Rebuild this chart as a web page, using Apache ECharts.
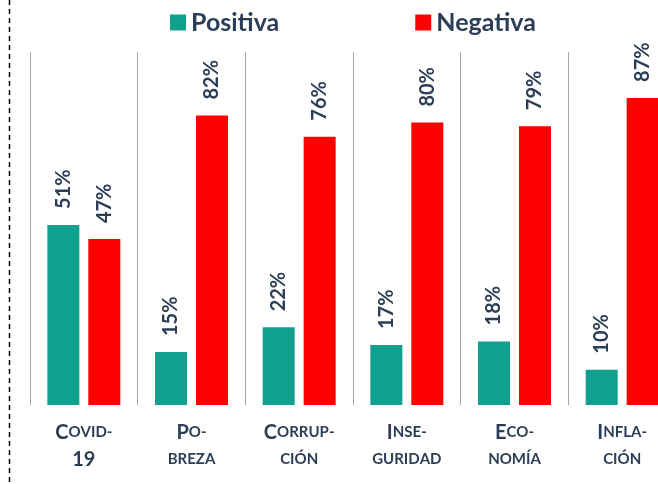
<!DOCTYPE html>
<html>
<head>
<meta charset="utf-8">
<script src="https://cdn.jsdelivr.net/npm/echarts@6/dist/echarts.min.js"></script>
<style>
  html, body { margin: 0; padding: 0; background: #fff; overflow: hidden; }
  /* la ultima columna se sale del borde derecho, como en el original */
  #chart { width: 676px; height: 484px; }
</style>
</head>
<body>
<div id="chart"></div>
<script>
// categorias (el guion marca el corte de linea)
var categories = ['Covid-\n19', 'Po-\nbreza', 'Corrup-\nción', 'Inse-\nguridad', 'Eco-\nnomía', 'Infla-\nción'];
var positiva = [51, 15, 22, 17, 18, 10];
var negativa = [47, 82, 76, 80, 79, 87];
var seriesNames = ['Positiva', 'Negativa'];

var textColor = '#2c3e56';
var font = 'Lato';

// versalitas: mayusculas y numeros grandes, minusculas pequeñas
function smallCaps(str) {
    return str.split('\n').map(function (line) {
        var out = '';
        for (var i = 0; i < line.length; i++) {
            var ch = line[i];
            if (ch !== ch.toLowerCase() || /[0-9]/.test(ch)) {
                out += '{big|' + ch + '}';
            } else {
                out += '{small|' + ch.toUpperCase() + '}';
            }
        }
        return out;
    }).join('\n');
}

var barLabel = {
    show: true,
    position: 'top',
    rotate: 90,
    align: 'left',
    verticalAlign: 'middle',
    distance: 16,
    formatter: '{c}%',
    color: textColor,
    fontFamily: font,
    fontWeight: 'bold',
    fontSize: 20
};

var option = {
    animation: false,
    color: ['#12a08e', '#ff0000'],
    legend: {
        top: 5,
        left: 165,
        itemWidth: 16,
        itemHeight: 16,
        itemGap: 136,
        icon: 'rect',
        textStyle: {
            color: textColor,
            fontFamily: font,
            fontWeight: 'bold',
            fontSize: 25
        },
        data: seriesNames
    },
    grid: {
        left: 30,
        top: 52,
        right: 0,
        bottom: 79,
        containLabel: false
    },
    xAxis: {
        type: 'category',
        data: categories,
        axisLine: { show: false },
        axisTick: { show: false },
        splitLine: {
            show: true,
            lineStyle: { color: '#a6a6a6', width: 1 }
        },
        axisLabel: {
            margin: 14,
            interval: 0,
            formatter: smallCaps,
            rich: {
                big: {
                    color: textColor,
                    fontFamily: font,
                    fontWeight: 'bold',
                    fontSize: 20,
                    lineHeight: 27
                },
                small: {
                    color: textColor,
                    fontFamily: font,
                    fontWeight: 'bold',
                    fontSize: 15,
                    lineHeight: 27
                }
            }
        }
    },
    yAxis: {
        type: 'value',
        min: 0,
        max: 100,
        show: false,
        splitLine: { show: false }
    },
    series: [
        {
            name: seriesNames[0],
            type: 'bar',
            barWidth: 32,
            barGap: '28%',
            data: positiva,
            label: barLabel
        },
        {
            name: seriesNames[1],
            type: 'bar',
            barWidth: 32,
            data: negativa,
            label: barLabel
        }
    ],
    graphic: [
        {
            type: 'line',
            shape: { x1: 9.5, y1: 0, x2: 9.5, y2: 484 },
            style: { stroke: '#000', lineWidth: 1.5, lineDash: [5, 4] }
        }
    ]
};

var chart = echarts.init(document.getElementById('chart'));
chart.setOption(option);
window.onresize = function () {
    chart.resize();
};
</script>
</body>
</html>
